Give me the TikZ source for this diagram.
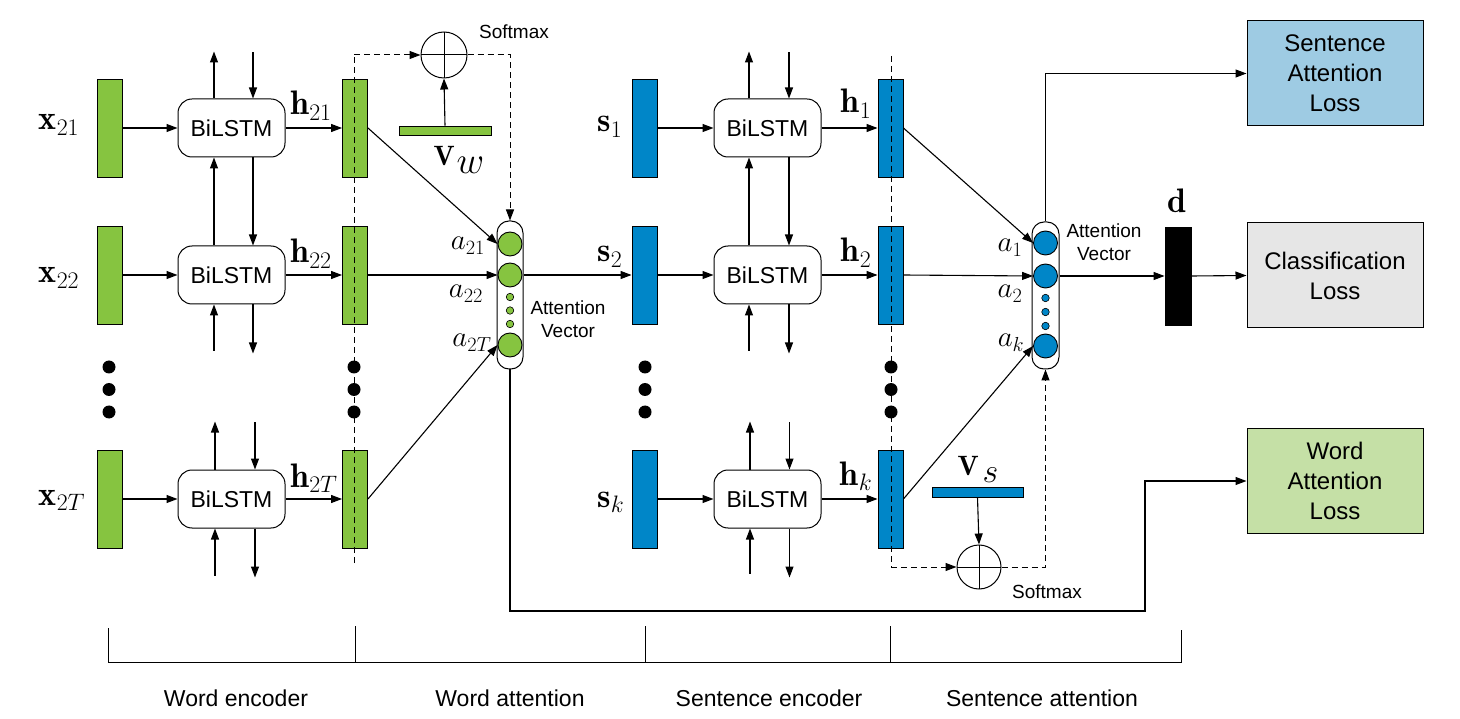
\RequirePackage{fix-cm}
\documentclass[tikz,border=0pt]{standalone}
\usepackage{fontspec}
\setsansfont{Liberation Sans}
\usetikzlibrary{arrows.meta,calc}
\definecolor{wgreen}{RGB}{134,196,64}
\definecolor{sblue}{RGB}{0,134,200}
\definecolor{lossblue}{RGB}{158,203,227}
\definecolor{lossgray}{RGB}{230,230,230}
\definecolor{lossgreen}{RGB}{197,224,166}
\begin{document}
\begin{tikzpicture}[x=1pt,y=-1pt,line width=1.1pt,
  >={Triangle[length=11pt,width=8pt]},
  bar/.style={draw=black,line width=0.9pt,minimum width=25pt,minimum height=98pt,inner sep=0pt},
  lstm/.style={draw,line width=1pt,rounded corners=14pt,minimum width=107pt,minimum height=58pt,inner sep=0pt,font=\sffamily\fontsize{23}{26}\selectfont},
  attv/.style={draw,line width=1pt,rounded corners=12pt,minimum width=26pt,minimum height=148pt,inner sep=0pt},
  bigc/.style={circle,draw,line width=0.9pt,minimum size=24pt,inner sep=0pt},
  smallc/.style={circle,draw,line width=0.6pt,minimum size=7.5pt,inner sep=0pt},
  dotn/.style={circle,fill=black,minimum size=13pt,inner sep=0pt},
  lossbox/.style={draw,line width=1pt,minimum width=176pt,minimum height=105pt,align=center,inner sep=0pt,font=\sffamily\fontsize{24}{30}\selectfont},
  mlab/.style={font=\fontsize{34}{38}\selectfont,anchor=base,inner sep=0pt},
  alab/.style={font=\fontsize{29}{30}\selectfont,anchor=base,inner sep=0pt},
  smtxt/.style={font=\sffamily\fontsize{19}{23}\selectfont,align=center,inner sep=0pt},
  btxt/.style={font=\sffamily\fontsize{23}{26}\selectfont,inner sep=0pt},
  softm/.style={circle,draw,line width=1pt,inner sep=0pt,path picture={\draw[line width=1pt] (path picture bounding box.north) -- (path picture bounding box.south) (path picture bounding box.west) -- (path picture bounding box.east);}},
  dsh/.style={line width=1pt,dash pattern=on 6pt off 4pt}
]
\useasboundingbox (0,0) rectangle (1460,719);

% ---------- word encoder ----------
\node[bar,fill=wgreen] (x1) at (109.5,128) {};
\node[bar,fill=wgreen] (x2) at (109.5,275) {};
\node[bar,fill=wgreen] (x3) at (109.5,499) {};
\node[dotn] (xd1) at (109,367) {};
\node[dotn] (xd2) at (109,389.5) {};
\node[dotn] (xd3) at (109,412) {};
\node[lstm] (l1) at (231.5,128) {BiLSTM};
\node[lstm] (l2) at (231.5,275) {BiLSTM};
\node[lstm] (l3) at (231.5,499) {BiLSTM};
\node[bar,fill=wgreen] (h1b) at (355,128) {};
\node[bar,fill=wgreen] (h2b) at (355,275) {};
\node[bar,fill=wgreen] (h3b) at (355,499) {};

\node[mlab] (lx1) at (59,130) {$\mathbf{x}_{21}$};
\node[mlab] (lx2) at (59,283) {$\mathbf{x}_{22}$};
\node[mlab] (lx3) at (62,505) {$\mathbf{x}_{2T}$};
\node[mlab] (lh1) at (311,115) {$\mathbf{h}_{21}$};
\node[mlab] (lh2) at (311,263) {$\mathbf{h}_{22}$};
\node[mlab] (lh3) at (314,487) {$\mathbf{h}_{2T}$};

\draw[->] (x1) -- (l1);
\draw[->] (x2) -- (l2);
\draw[->] (x3) -- (l3);
\draw[->] (l1) -- (h1b);
\draw[->] (l2) -- (h2b);
\draw[->] (l3) -- (h3b);
\draw[->] ([xshift=-17.5pt]l1.north) -- ++(0,-47);
\draw[<-] ([xshift=21.5pt]l1.north) -- ++(0,-46);
\draw[->] ([xshift=-17.5pt]l2.north) -- ([xshift=-17.5pt]l1.south);
\draw[->] ([xshift=21.5pt]l1.south) -- ([xshift=21.5pt]l2.north);
\draw[<-] ([xshift=-17.5pt]l2.south) -- ++(0,47);
\draw[->] ([xshift=21.5pt]l2.south) -- ++(0,49);
\draw[->] ([xshift=-16.5pt]l3.north) -- ++(0,-48);
\draw[<-] ([xshift=23.5pt]l3.north) -- ++(0,-48);
\draw[<-] ([xshift=-16.5pt]l3.south) -- ++(0,47);
\draw[->] ([xshift=23.5pt]l3.south) -- ++(0,49);

\node[dotn] (hd1) at (354,367) {};
\node[dotn] (hd2) at (354,389.5) {};
\node[dotn] (hd3) at (354,412) {};

% ---------- word attention ----------
\node[attv] (att1) at (510,295) {};
\node[bigc,fill=wgreen] (c21) at (510,244) {};
\node[bigc,fill=wgreen] (c22) at (510,275) {};
\node[bigc,fill=wgreen] (c2T) at (510,345) {};
\node[smallc,fill=wgreen] (cd1) at (510,297) {};
\node[smallc,fill=wgreen] (cd2) at (510,310.5) {};
\node[smallc,fill=wgreen] (cd3) at (510,324) {};
\node[alab] (la21) at (468,250) {$a_{21}$};
\node[alab] (la22) at (466,298) {$a_{22}$};
\node[alab] (la2T) at (472,347) {$a_{2T}$};
\node[smtxt] (av1) at (568,319) {Attention\\Vector};

\node[softm,minimum size=46pt] (sm1) at (444,55) {};
\node[smtxt] (smt1) at (514,32) {Softmax};
\node[bar,fill=wgreen,minimum width=92pt,minimum height=9pt] (vw) at (445,130.5) {};
\node[anchor=base west,inner sep=0pt] (lvw) at (433,166) {\fontsize{28}{30}\selectfont$\mathbf{V}$\kern2pt\raisebox{-8pt}{\fontsize{38}{40}\selectfont$w$}};

\coordinate (wtop) at (354,55);
\coordinate (wbot) at (354,563);
\draw[dsh] (wbot) -- (wtop);
\draw[dsh,->] (wtop) -- (sm1.west);
\draw[dsh,->] (sm1.east) -| (att1.north);
\draw[->] (vw.north) -- (sm1.south);

\draw[->] (h1b.east) -- (c21.west);
\draw[->] (h2b.east) -- (c22.west);
\draw[->] (h3b.east) -- (c2T.west);

% ---------- sentence encoder ----------
\node[bar,fill=sblue] (s1) at (644.5,128) {};
\node[bar,fill=sblue] (s2) at (644.5,275) {};
\node[bar,fill=sblue] (s3) at (644.5,499) {};
\node[dotn] (sd1) at (645,367) {};
\node[dotn] (sd2) at (645,389.5) {};
\node[dotn] (sd3) at (645,412) {};
\node[lstm] (m1) at (767.5,128) {BiLSTM};
\node[lstm] (m2) at (767.5,275) {BiLSTM};
\node[lstm] (m3) at (767.5,499) {BiLSTM};
\node[bar,fill=sblue] (g1) at (890.5,128) {};
\node[bar,fill=sblue] (g2) at (890.5,275) {};
\node[bar,fill=sblue] (g3) at (890.5,499) {};
\node[dotn] (gd1) at (891,367) {};
\node[dotn] (gd2) at (891,389.5) {};
\node[dotn] (gd3) at (891,412) {};

\node[mlab] (ls1) at (610,132) {$\mathbf{s}_{1}$};
\node[mlab] (ls2) at (610,262) {$\mathbf{s}_{2}$};
\node[mlab] (ls3) at (611,507) {$\mathbf{s}_{k}$};
\node[mlab] (lg1) at (856,113) {$\mathbf{h}_{1}$};
\node[mlab] (lg2) at (856,262) {$\mathbf{h}_{2}$};
\node[mlab] (lg3) at (856,485) {$\mathbf{h}_{k}$};

\draw[->] (att1.east |- c22) -- (s2.west);
\draw[->] (s1) -- (m1);
\draw[->] (s2) -- (m2);
\draw[->] (s3) -- (m3);
\draw[->] (m1) -- (g1);
\draw[->] (m2) -- (g2);
\draw[->] (m3) -- (g3);
\draw[->] ([xshift=-18.5pt]m1.north) -- ++(0,-47);
\draw[<-] ([xshift=21.5pt]m1.north) -- ++(0,-46);
\draw[->] ([xshift=-18.5pt]m2.north) -- ([xshift=-18.5pt]m1.south);
\draw[->] ([xshift=21.5pt]m1.south) -- ([xshift=21.5pt]m2.north);
\draw[<-] ([xshift=-18.5pt]m2.south) -- ++(0,47);
\draw[->] ([xshift=21.5pt]m2.south) -- ++(0,49);
\draw[->] ([xshift=-17.5pt]m3.north) -- ++(0,-48);
\draw[<-] ([xshift=22pt]m3.north) -- ++(0,-48);
\draw[<-] ([xshift=-17.5pt]m3.south) -- ++(0,45);
\draw[->] ([xshift=22pt]m3.south) -- ++(0,49);

% ---------- sentence attention ----------
\node[attv,minimum height=147pt,minimum width=27pt] (att2) at (1045.5,295.5) {};
\node[bigc,fill=sblue] (c1) at (1045.5,243) {};
\node[bigc,fill=sblue] (c2) at (1045.5,276) {};
\node[bigc,fill=sblue] (ck) at (1045.5,346) {};
\node[smallc,fill=sblue] (ce1) at (1045.5,298) {};
\node[smallc,fill=sblue] (ce2) at (1045.5,312) {};
\node[smallc,fill=sblue] (ce3) at (1045.5,326) {};
\node[alab] (la1) at (1010,252) {$a_{1}$};
\node[alab] (la2) at (1010,298) {$a_{2}$};
\node[alab] (lak) at (1011,347) {$a_{k}$};
\node[smtxt] (av2) at (1104,242) {Attention\\Vector};

\node[softm,minimum size=44pt] (sm2) at (979,567) {};
\node[smtxt] (smt2) at (1047,592) {Softmax};
\node[bar,fill=sblue,minimum width=91pt,minimum height=10pt] (vs) at (977.5,492) {};
\node[anchor=base west,inner sep=0pt] (lvs) at (957,475) {\fontsize{28}{30}\selectfont$\mathbf{V}$\kern4pt\raisebox{-7pt}{\fontsize{34}{36}\selectfont$s$}};

\coordinate (stop) at (891,56);
\coordinate (sbot) at (891,567);
\draw[dsh] (stop) -- (sbot);
\draw[dsh,->] (sbot) -- (sm2.west);
\draw[dsh,->] (sm2.east) -| (att2.south);
\draw[->] (vs.south) -- (sm2.north);

\draw[->] (g1.east) -- (c1.west);
\draw[->] (g2.east) -- (c2.west);
\draw[->] (g3.east) -- (ck.west);

% ---------- outputs ----------
\node[bar,fill=black,minimum width=26pt] (d) at (1178,276) {};
\node[mlab] (ld) at (1177,213) {$\mathbf{d}$};
\node[lossbox,fill=lossblue] (sal) at (1335,73.5) {Sentence\\Attention\\Loss};
\node[lossbox,fill=lossgray] (cls) at (1335,275.5) {Classification\\Loss};
\node[lossbox,fill=lossgreen] (wal) at (1335,481) {Word\\Attention\\Loss};

\draw[->] (att2.east |- c2) -- (d.west);
\draw[->] (d.east) -- (cls.west);
\draw[->] (att2.north) |- (sal.west);
\coordinate (fb) at (1145,611);
\draw[->] (att1.south) |- (fb) |- (wal.west);

% ---------- bottom brackets ----------
\draw[line width=1pt] (108,628) -- (108,662) -- (1181,662) -- (1181,630);
\draw[line width=1pt] (355,626) -- (355,662);
\draw[line width=1pt] (645,626) -- (645,662);
\draw[line width=1pt] (890,626) -- (890,662);
\node[btxt] (t1) at (236,698) {Word encoder};
\node[btxt] (t2) at (510,698) {Word attention};
\node[btxt] (t3) at (769,698) {Sentence encoder};
\node[btxt] (t4) at (1042,698) {Sentence attention};
\end{tikzpicture}
\end{document}
